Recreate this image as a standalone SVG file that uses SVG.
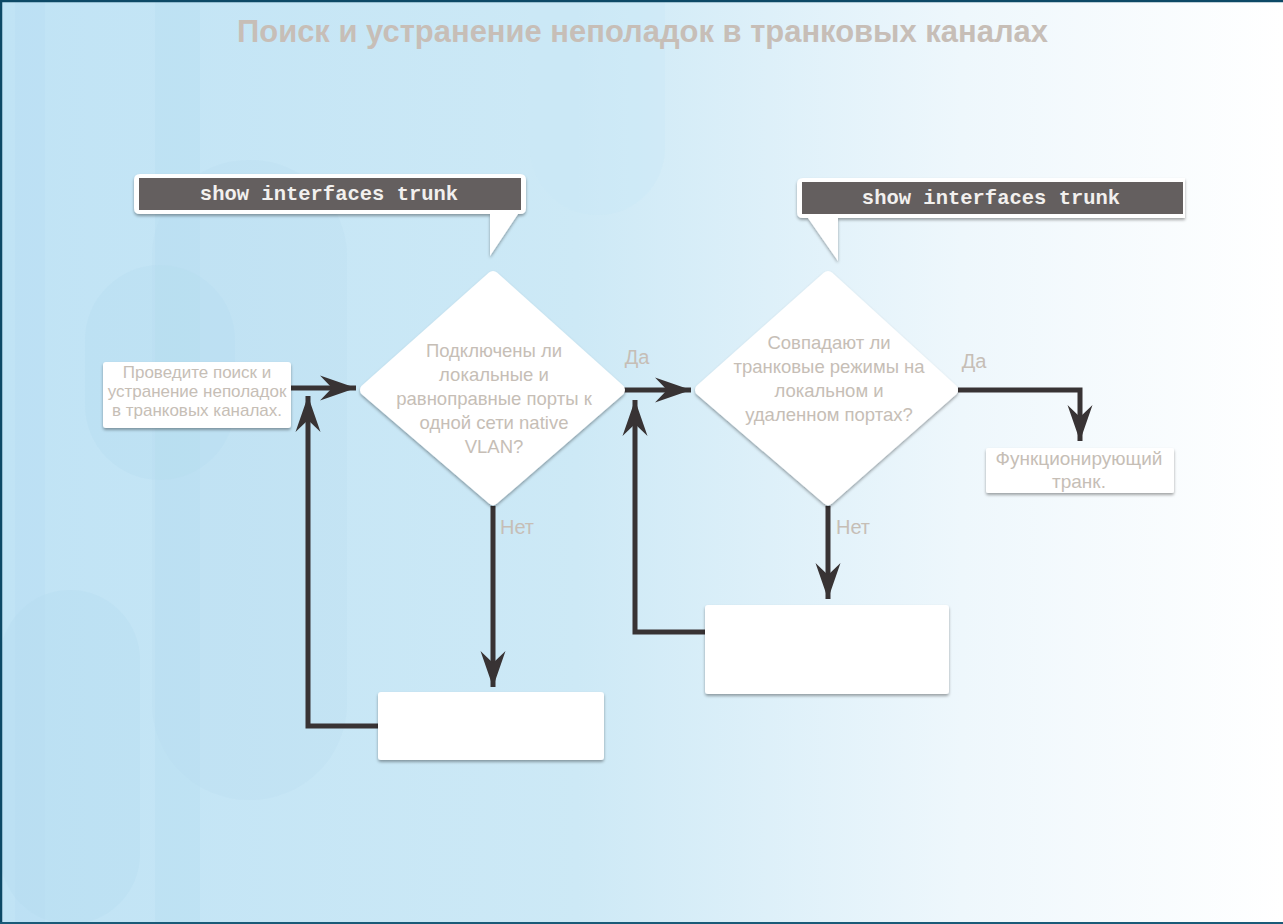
<svg xmlns="http://www.w3.org/2000/svg" width="1283" height="924" viewBox="0 0 1283 924">
<defs>
<linearGradient id="bg" x1="0" y1="0" x2="1" y2="0">
<stop offset="0" stop-color="#c0e3f5"/>
<stop offset="0.45" stop-color="#cde9f6"/>
<stop offset="0.75" stop-color="#eef7fc"/>
<stop offset="1" stop-color="#ffffff"/>
</linearGradient>
<filter id="sh" x="-10%" y="-10%" width="120%" height="130%">
<feDropShadow dx="0" dy="2" stdDeviation="1.5" flood-color="#000" flood-opacity="0.35"/>
</filter>
<marker id="ah" markerUnits="userSpaceOnUse" markerWidth="40" markerHeight="30" viewBox="-37 -14 40 28" refX="0" refY="0" orient="auto">
<path d="M0,0 L-36,-12.5 L-24,0 L-36,12.5 Z" fill="#383334"/>
</marker>
<style>
.ln{fill:none;stroke:#383334;stroke-width:5;}
.box{fill:#ffffff;filter:url(#sh);}
.dia{fill:#ffffff;stroke:#ffffff;stroke-width:12;stroke-linejoin:round;filter:url(#sh);}
.t{font-family:"Liberation Sans",Arial,sans-serif;fill:#c6beb6;text-anchor:middle;}
.cmd{font-family:"Liberation Mono","Courier New",monospace;font-weight:bold;font-size:20.5px;fill:#f2f0ee;text-anchor:middle;}
.co{fill:#ffffff;filter:url(#sh);}
</style>
</defs>
<g id="background">
<rect x="0" y="0" width="1283" height="924" fill="url(#bg)"/>
<rect x="15" y="0" width="30" height="924" fill="#b6ddf2" opacity="0.4"/>
<rect x="155" y="0" width="45" height="924" fill="#b5dcf1" opacity="0.35"/>
<rect x="85" y="265" width="150" height="215" rx="75" fill="#b3dbf0" opacity="0.3"/>
<rect x="0" y="590" width="140" height="334" rx="70" fill="#b3dbf0" opacity="0.3"/>
<rect x="152" y="160" width="195" height="640" rx="97" fill="#b7ddf1" opacity="0.25"/>
<rect x="530" y="-60" width="135" height="275" rx="67" fill="#c8e7f6" opacity="0.35"/>
<path d="M1,924 L1,1 L1283,1" fill="none" stroke="#0d4966" stroke-width="2.5"/>
<line x1="0" y1="923" x2="1283" y2="923" stroke="#1a5a78" stroke-width="2"/>
</g>
<g id="title">
<text x="237" y="42" font-family="Liberation Sans,Arial,sans-serif" font-weight="bold" font-size="32" fill="#c7beb7" textLength="811" lengthAdjust="spacingAndGlyphs">Поиск и устранение неполадок в транковых каналах</text>
</g>
<g id="connectors">
<path class="ln" d="M291,388 L356,388" marker-end="url(#ah)"/>
<path class="ln" d="M378,726 L308,726 L308,396" marker-end="url(#ah)"/>
<path class="ln" d="M493,506 L493,687" marker-end="url(#ah)"/>
<path class="ln" d="M624,390 L691,390" marker-end="url(#ah)"/>
<path class="ln" d="M705,632 L635,632 L635,400" marker-end="url(#ah)"/>
<path class="ln" d="M828,506 L828,599" marker-end="url(#ah)"/>
<path class="ln" d="M958,390 L1080,390 L1080,441" marker-end="url(#ah)"/>
</g>
<g id="callout1">
<path class="co" d="M140,174 L520,174 Q526,174 526,180 L526,208 Q526,214 520,214 L518,214 L490,256 L490,214 L140,214 Q134,214 134,208 L134,180 Q134,174 140,174 Z"/>
<rect x="139" y="178" width="382" height="32" fill="#645f5f"/>
<text class="cmd" x="329" y="200">show interfaces trunk</text>
</g>
<g id="callout2">
<path class="co" d="M803,178 L1185,178 L1185,218 L838,218 L838,261 L808,218 L803,218 Q797,218 797,212 L797,184 Q797,178 803,178 Z"/>
<rect x="802" y="182" width="381" height="32" fill="#645f5f"/>
<text class="cmd" x="991" y="204">show interfaces trunk</text>
</g>
<g id="start">
<rect class="box" x="103" y="362" width="188" height="66" rx="3"/>
<text class="t" font-size="17"><tspan x="197" y="378">Проведите поиск и</tspan><tspan x="197" y="397">устранение неполадок</tspan><tspan x="197" y="416">в транковых каналах.</tspan></text>
</g>
<g id="decision1">
<polygon class="dia" points="493,277 619,390 493,499 366,390"/>
<text class="t" font-size="18.5"><tspan x="494" y="357">Подключены ли</tspan><tspan x="494" y="381">локальные и</tspan><tspan x="494" y="405">равноправные порты к</tspan><tspan x="494" y="429">одной сети native</tspan><tspan x="494" y="453">VLAN?</tspan></text>
</g>
<g id="decision2">
<polygon class="dia" points="828,277 952,390 828,499 701,390"/>
<text class="t" font-size="18.5"><tspan x="829" y="349">Совпадают ли</tspan><tspan x="829" y="373">транковые режимы на</tspan><tspan x="829" y="397">локальном и</tspan><tspan x="829" y="421">удаленном портах?</tspan></text>
</g>
<g id="box-left">
<rect class="box" x="378" y="692" width="226" height="68" rx="3"/>
</g>
<g id="box-right">
<rect class="box" x="705" y="605" width="244" height="89" rx="3"/>
</g>
<g id="result">
<rect class="box" x="986" y="448" width="188" height="45" rx="2"/>
<text class="t" font-size="19"><tspan x="1079" y="465">Функционирующий</tspan><tspan x="1079" y="488">транк.</tspan></text>
</g>
<g id="labels">
<text class="t" font-size="20" x="637" y="364">Да</text>
<text class="t" font-size="20" x="974" y="368">Да</text>
<text class="t" font-size="20" x="517" y="534">Нет</text>
<text class="t" font-size="20" x="853" y="534">Нет</text>
</g>
</svg>
